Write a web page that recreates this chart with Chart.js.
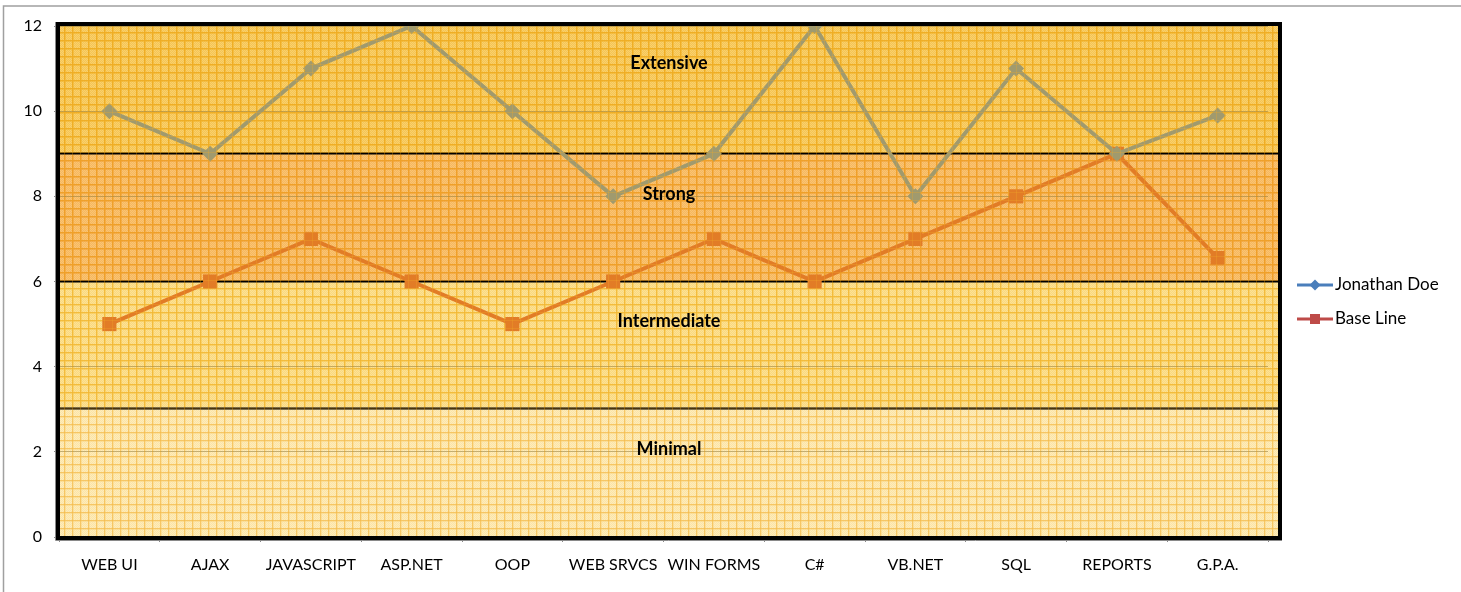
<!DOCTYPE html>
<html>
<head>
<meta charset="utf-8">
<script src="https://cdn.jsdelivr.net/npm/chart.js@4.4.1/dist/chart.umd.min.js"></script>
<style>
  html, body { margin: 0; padding: 0; background: #fff; }
  #wrap { width: 1461px; height: 592px; }
</style>
</head>
<body>
<div id="wrap"><canvas id="skillsChart" width="1461" height="592"></canvas></div>
<script>
const skills = ['WEB UI', 'AJAX', 'JAVASCRIPT', 'ASP.NET', 'OOP', 'WEB SRVCS', 'WIN FORMS', 'C#', 'VB.NET', 'SQL', 'REPORTS', 'G.P.A.'];
const jonathanDoe = [10, 9, 11, 12, 10, 8, 9, 12, 8, 11, 9, 9.9];
const baseLine = [5, 6, 7, 6, 5, 6, 7, 6, 7, 8, 9, 6.55];
const yTicks = [0, 2, 4, 6, 8, 10, 12];
const bandNames = ['Minimal', 'Intermediate', 'Strong', 'Extensive'];
const bandLimits = [0, 3, 6, 9, 12];

const FONT = 'Lato, "Open Sans", sans-serif';

// little 8x8 tiles to fake the hatched fill of the bands
function makePattern(ctx, base, dot, line) {
    const c = document.createElement('canvas');
    c.width = 8; c.height = 8;
    const g = c.getContext('2d');
    g.fillStyle = base;
    g.fillRect(0, 0, 8, 8);
    g.fillStyle = dot;
    for (let y = 0; y < 8; y++) {
        for (let x = 0; x < 8; x++) {
            if ((x + y) % 2 === 0) g.fillRect(x, y, 1, 1);
        }
    }
    g.fillStyle = line;
    g.fillRect(0, 0, 8, 1.5);
    g.fillRect(0, 0, 1.5, 8);
    return ctx.createPattern(c, 'repeat');
}

function makeLinePattern(ctx, line) {
    const c = document.createElement('canvas');
    c.width = 8; c.height = 8;
    const g = c.getContext('2d');
    g.fillStyle = line;
    g.fillRect(0, 0, 8, 1);
    g.fillRect(0, 0, 1, 8);
    return ctx.createPattern(c, 'repeat');
}

const canvas = document.getElementById('skillsChart');
const ctx = canvas.getContext('2d');

// Minimal, Intermediate, Strong, Extensive
const bandFills = [
    makePattern(ctx, '#fcecbc', '#fde4a6', '#f9d37e'),
    makePattern(ctx, '#fad97e', '#fce196', '#f5c446'),
    makePattern(ctx, '#f7b85e', '#f9c474', '#f09c2a'),
    makePattern(ctx, '#f6c553', '#f8d06e', '#efb025')
];
const texture = makeLinePattern(ctx, 'rgba(240,170,40,0.3)');

function frameBox(chart) {
    const a = chart.chartArea;
    const y = chart.scales.y;
    return {
        left: a.left - 1,
        right: a.right + 12,
        top: y.getPixelForValue(12) - 2,
        bottom: y.getPixelForValue(0) + 1
    };
}

const bandsPlugin = {
    id: 'bands',
    beforeDraw(chart) {
        const c = chart.ctx;
        const f = frameBox(chart);
        const y = chart.scales.y;
        c.save();
        c.fillStyle = '#fff';
        c.fillRect(0, 0, chart.width, chart.height);
        c.strokeStyle = '#a0a0a0';
        c.lineWidth = 1.5;
        c.strokeRect(3.5, 6, chart.width + 10, chart.height + 10);
        for (let i = 0; i < bandNames.length; i++) {
            const top = i === bandNames.length - 1 ? f.top : y.getPixelForValue(bandLimits[i + 1]);
            const bottom = i === 0 ? f.bottom : y.getPixelForValue(bandLimits[i]);
            c.fillStyle = bandFills[i];
            c.fillRect(f.left, top, f.right - f.left, bottom - top);
        }
        c.restore();
    },
    beforeDatasetsDraw(chart) {
        const c = chart.ctx;
        const f = frameBox(chart);
        const y = chart.scales.y;
        c.save();
        c.strokeStyle = '#000';
        c.lineWidth = 2;
        for (let i = 1; i < bandLimits.length - 1; i++) {
            const py = Math.round(y.getPixelForValue(bandLimits[i])) - 0.5;
            c.beginPath();
            c.moveTo(f.left, py);
            c.lineTo(f.right, py);
            c.stroke();
        }
        c.restore();
    },
    afterDatasetsDraw(chart) {
        const c = chart.ctx;
        const f = frameBox(chart);
        const y = chart.scales.y;
        c.save();
        // hatch texture over the lines as well
        c.fillStyle = texture;
        c.fillRect(f.left, f.top, f.right - f.left, f.bottom - f.top);
        // heavy frame
        c.strokeStyle = '#000';
        c.lineWidth = 4;
        c.strokeRect(f.left, f.top, f.right - f.left, f.bottom - f.top);
        c.strokeStyle = '#8a8a8a';
        c.lineWidth = 1;
        c.beginPath();
        c.moveTo(f.left - 2.5, f.top - 2);
        c.lineTo(f.left - 2.5, f.bottom + 2.5);
        c.lineTo(f.right + 2, f.bottom + 2.5);
        c.stroke();
        // band names
        c.fillStyle = '#000';
        c.font = 'bold 18px ' + FONT;
        c.textAlign = 'center';
        c.textBaseline = 'middle';
        const cx = (f.left + f.right) / 2;
        bandNames.forEach((name, i) => {
            const off = i === bandNames.length - 1 ? 37 : 40;
            c.fillText(name, cx, y.getPixelForValue(bandLimits[i + 1]) + off);
        });
        c.restore();
    },
    afterDraw(chart) {
        // legend: line with marker, like the office chart
        const c = chart.ctx;
        const lx = 1297;
        c.save();
        chart.data.datasets.forEach((ds, i) => {
            const ly = 285 + i * 34;
            c.strokeStyle = ds.legendColor;
            c.lineWidth = 3;
            c.beginPath();
            c.moveTo(lx, ly);
            c.lineTo(lx + 36, ly);
            c.stroke();
            c.fillStyle = ds.legendColor;
            c.beginPath();
            if (ds.pointStyle === 'rectRot') {
                c.moveTo(lx + 18, ly - 5.5);
                c.lineTo(lx + 23.5, ly);
                c.lineTo(lx + 18, ly + 5.5);
                c.lineTo(lx + 12.5, ly);
                c.closePath();
            } else {
                c.rect(lx + 13, ly - 5, 10, 10);
            }
            c.fill();
            c.fillStyle = '#000';
            c.font = '17px ' + FONT;
            c.textAlign = 'left';
            c.textBaseline = 'middle';
            c.fillText(ds.label, lx + 38, ly);
        });
        c.restore();
    }
};

new Chart(ctx, {
    type: 'line',
    data: {
        labels: skills,
        datasets: [
            {
                label: 'Jonathan Doe',
                data: jonathanDoe,
                legendColor: '#4a7ebb',
                borderColor: '#a09a6e',
                backgroundColor: '#a09a6e',
                borderWidth: 4,
                pointStyle: 'rectRot',
                pointRadius: 8,
                pointBorderWidth: 0,
                tension: 0
            },
            {
                label: 'Base Line',
                data: baseLine,
                legendColor: '#be4b48',
                borderColor: '#e27c26',
                backgroundColor: '#e27c26',
                borderWidth: 4,
                pointStyle: 'rect',
                pointRadius: 10,
                pointBorderWidth: 0,
                tension: 0
            }
        ]
    },
    options: {
        responsive: false,
        animation: false,
        devicePixelRatio: 1,
        layout: { padding: { left: 0, top: 26, right: 193, bottom: 0 } },
        plugins: {
            legend: { display: false },
            tooltip: { enabled: false }
        },
        scales: {
            x: {
                offset: true,
                grid: {
                    offset: true,
                    drawOnChartArea: false,
                    tickLength: 5,
                    color: '#8a8a8a'
                },
                border: { color: '#8a8a8a' },
                ticks: {
                    color: '#000',
                    padding: 13,
                    maxRotation: 0,
                    autoSkip: false,
                    font: { family: FONT, size: 16 }
                },
                afterFit(scale) { scale.height = 55; }
            },
            y: {
                min: 0,
                max: 12,
                afterBuildTicks(scale) {
                    scale.ticks = yTicks.map(v => ({ value: v }));
                },
                grid: {
                    color: 'rgba(150,125,60,0.55)',
                    tickColor: '#8a8a8a',
                    tickLength: 5
                },
                border: { color: '#8a8a8a' },
                ticks: {
                    color: '#000',
                    padding: 12,
                    font: { family: FONT, size: 16 }
                },
                afterFit(scale) { scale.width = 59; }
            }
        }
    },
    plugins: [bandsPlugin]
});
</script>
</body>
</html>
